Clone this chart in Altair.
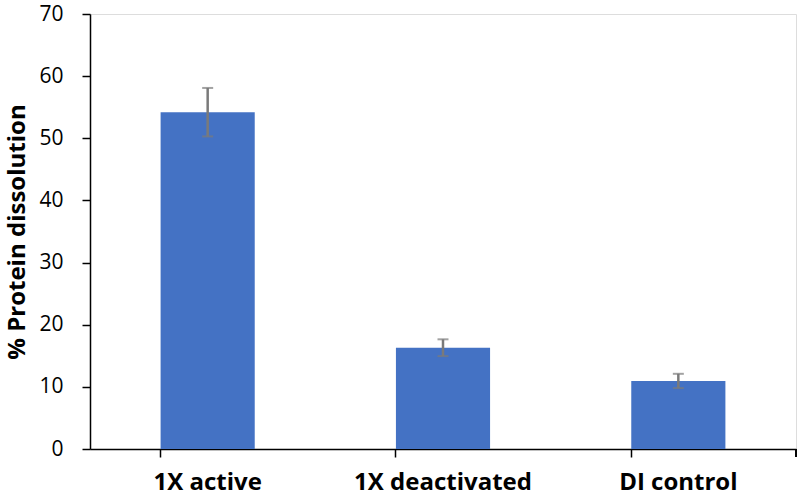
import altair as alt
import pandas as pd

categories = ["1X active", "1X deactivated", "DI control"]
values = [54.2, 16.3, 10.95]
errors = [3.9, 1.35, 1.15]

df = pd.DataFrame({"cat": categories, "val": values, "err": errors})

W, H = 706, 435
FONT = "Open Sans"

x = alt.X("cat:N", sort=categories, title=None,
          scale=alt.Scale(paddingInner=0.6, paddingOuter=0.3),
          axis=alt.Axis(labelAngle=0, labelFontSize=24, labelFontWeight="bold",
                        labelColor="#000", labelFont=FONT, labelPadding=13,
                        tickSize=8, tickColor="#000", domainColor="#000",
                        domainWidth=1.5, tickWidth=1.5, bandPosition=0))
y = alt.Y("val:Q", title="% Protein dissolution",
          scale=alt.Scale(domain=[0, 70], nice=False),
          axis=alt.Axis(values=list(range(0, 71, 10)), grid=False, labelFontSize=21,
                        labelColor="#000", labelFont=FONT, labelPadding=19,
                        titleFontSize=24, titleFont=FONT, titleFontWeight="bold",
                        titleColor="#000", titlePadding=9, tickSize=8,
                        tickColor="#000", domainColor="#000", domainWidth=1.5,
                        tickWidth=1.5))

base = alt.Chart(df).transform_calculate(
    lo="datum.val - datum.err", hi="datum.val + datum.err")

bars = base.mark_bar(color="#4472C4").encode(x=x, y=y)
rule = base.mark_rule(color="#7a7a7a", strokeWidth=2.5).encode(
    x=alt.X("cat:N", sort=categories), y="lo:Q", y2="hi:Q")
cap_hi = base.mark_tick(color="#7a7a7a", thickness=2, size=11, orient="horizontal").encode(
    x=alt.X("cat:N", sort=categories), y="hi:Q")
cap_lo = base.mark_tick(color="#7a7a7a", thickness=2, size=11, orient="horizontal").encode(
    x=alt.X("cat:N", sort=categories), y="lo:Q")
end_tick = alt.Chart(df).mark_rule(color="#000", strokeWidth=1.5).encode(
    x=alt.value(W), y=alt.value(H), y2=alt.value(H + 8))

chart = alt.layer(bars, rule, cap_hi, cap_lo, end_tick).properties(
    width=W, height=H,
    autosize=alt.AutoSizeParams(type="none"),
    padding={"left": 90, "top": 14, "right": 1, "bottom": 46},
).configure_view(stroke=None).configure(background="white")

chart.save("out.html", embed_options={"renderer": "svg", "actions": False})
